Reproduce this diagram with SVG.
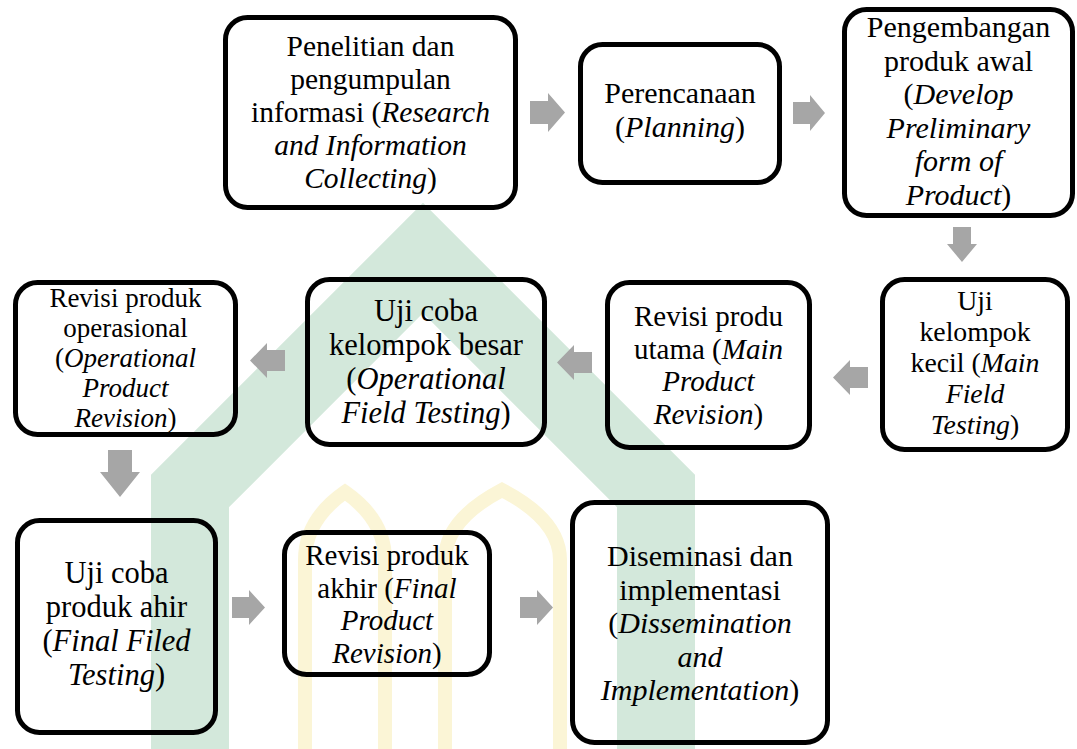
<svg xmlns="http://www.w3.org/2000/svg" width="1077" height="749" viewBox="0 0 1077 749">
<style>
.box{fill:none;stroke:#000;stroke-width:5}
.t{font-family:"Liberation Serif","Times New Roman",serif;font-size:30px;fill:#000;text-anchor:middle}
.i{font-style:italic}
.arr{fill:#a6a6a6}
.wm{fill:none;stroke:#d3e8db}
.wy{fill:none;stroke:#fbf5d6;stroke-width:14}
</style>
<rect width="1077" height="749" fill="#fff"/>
<g id="watermark">
<polyline class="wm" stroke-width="78" points="190,749 190,491 423,258 656,491 656,749"/>
<path class="wy" d="M305,749 V560 Q305,520 345,492 Q385,520 385,560 V749"/>
<path class="wy" d="M445,749 V560 Q445,520 502,490 Q560,520 560,560 V749"/>
</g>
<g id="connectors">
<path class="arr" d="M530,101 H548 V93 L565,112.5 L548,132 V124 H530 Z"/>
<path class="arr" d="M793,102 H810 V95 L825,113 L810,131 V124 H793 Z"/>
<path class="arr" d="M953,227 H971 V244 H977 L962,262 L947,244 H953 Z"/>
<path class="arr" d="M868,367 H850 V360 L833,377.5 L850,395 V388 H868 Z"/>
<path class="arr" d="M592,352 H574 V345 L557,362.5 L574,380 V373 H592 Z"/>
<path class="arr" d="M285,350 H267 V343 L250,360.5 L267,378 V371 H285 Z"/>
<path class="arr" d="M108,450 H132 V472 H140 L120,497 L100,472 H108 Z"/>
<path class="arr" d="M232,597 H249 V590 L265,607.5 L249,625 V618 H232 Z"/>
<path class="arr" d="M520,597 H537 V590 L553,607.5 L537,625 V618 H520 Z"/>
</g>
<g id="n1">
<rect class="box" x="225.5" y="17.5" width="290" height="190" rx="22"/>
<text class="t" style="font-size:29.5px"><tspan x="370.5" y="56">Penelitian dan</tspan><tspan x="370.5" y="89">pengumpulan</tspan><tspan x="370.5" y="122">informasi (<tspan class="i">Research</tspan></tspan><tspan class="i" x="370.5" y="155">and Information</tspan><tspan x="370.5" y="188"><tspan class="i">Collecting</tspan>)</tspan></text>
</g>
<g id="n2">
<rect class="box" x="580.5" y="44.5" width="199" height="138" rx="22"/>
<text class="t"><tspan x="680" y="103">Perencanaan</tspan><tspan x="680" y="136.5">(<tspan class="i">Planning</tspan>)</tspan></text>
</g>
<g id="n3">
<rect class="box" x="844.5" y="9.5" width="228" height="206" rx="22"/>
<text class="t"><tspan x="958.5" y="37">Pengembangan</tspan><tspan x="958.5" y="70.5">produk awal</tspan><tspan x="958.5" y="104">(<tspan class="i">Develop</tspan></tspan><tspan class="i" x="958.5" y="137.5">Preliminary</tspan><tspan class="i" x="958.5" y="171">form of</tspan><tspan x="958.5" y="204.5"><tspan class="i">Product</tspan>)</tspan></text>
</g>
<g id="n4">
<rect class="box" x="882.5" y="279.5" width="185" height="170" rx="22"/>
<text class="t" style="font-size:27.8px"><tspan x="975" y="310">Uji</tspan><tspan x="975" y="341">kelompok</tspan><tspan x="975" y="372">kecil (<tspan class="i">Main</tspan></tspan><tspan class="i" x="975" y="403">Field</tspan><tspan x="975" y="434"><tspan class="i">Testing</tspan>)</tspan></text>
</g>
<g id="n5">
<rect class="box" x="607.5" y="282.5" width="202" height="165" rx="22"/>
<text class="t" style="font-size:29px"><tspan x="708.5" y="326">Revisi produ</tspan><tspan x="708.5" y="358.5">utama (<tspan class="i">Main</tspan></tspan><tspan class="i" x="708.5" y="391">Product</tspan><tspan x="708.5" y="423.5"><tspan class="i">Revision</tspan>)</tspan></text>
</g>
<g id="n6">
<rect class="box" x="307.5" y="279.5" width="237" height="165" rx="22"/>
<text class="t" style="font-size:30.5px"><tspan x="426" y="321">Uji coba</tspan><tspan x="426" y="355">kelompok besar</tspan><tspan x="426" y="389">(<tspan class="i">Operational</tspan></tspan><tspan x="426" y="423"><tspan class="i">Field Testing</tspan>)</tspan></text>
</g>
<g id="n7">
<rect class="box" x="15.5" y="282.5" width="220" height="152" rx="22"/>
<text class="t" style="font-size:27px"><tspan x="125.5" y="307">Revisi produk</tspan><tspan x="125.5" y="337">operasional</tspan><tspan x="125.5" y="367">(<tspan class="i">Operational</tspan></tspan><tspan class="i" x="125.5" y="397">Product</tspan><tspan x="125.5" y="427"><tspan class="i">Revision</tspan>)</tspan></text>
</g>
<g id="n8">
<rect class="box" x="17.5" y="520.5" width="198" height="212" rx="22"/>
<text class="t" style="font-size:30.5px"><tspan x="116.5" y="583">Uji coba</tspan><tspan x="116.5" y="617">produk ahir</tspan><tspan x="116.5" y="651">(<tspan class="i">Final Filed</tspan></tspan><tspan x="116.5" y="685"><tspan class="i">Testing</tspan>)</tspan></text>
</g>
<g id="n9">
<rect class="box" x="284.5" y="532.5" width="205" height="142" rx="22"/>
<text class="t" style="font-size:29px"><tspan x="387" y="565">Revisi produk</tspan><tspan x="387" y="597.5">akhir (<tspan class="i">Final</tspan></tspan><tspan class="i" x="387" y="630">Product</tspan><tspan x="387" y="662.5"><tspan class="i">Revision</tspan>)</tspan></text>
</g>
<g id="n10">
<rect class="box" x="572.5" y="502.5" width="255" height="240" rx="22"/>
<text class="t"><tspan x="700" y="566">Diseminasi dan</tspan><tspan x="700" y="599.5">implementasi</tspan><tspan x="700" y="633">(<tspan class="i">Dissemination</tspan></tspan><tspan class="i" x="700" y="666.5">and</tspan><tspan x="700" y="700"><tspan class="i">Implementation</tspan>)</tspan></text>
</g>
</svg>
